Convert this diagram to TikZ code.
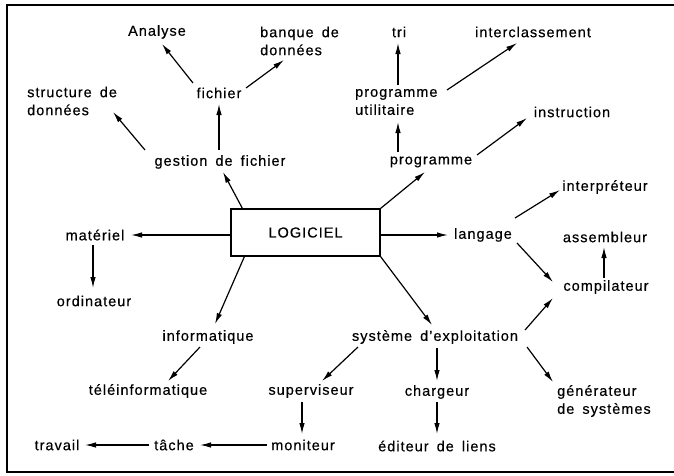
\documentclass[tikz,border=0pt]{standalone}
\usepackage{fontspec}
\setmainfont{Liberation Sans}[LetterSpace=7,WordSpace=1.6,FakeBold=0.4]
\usetikzlibrary{arrows.meta}
\begin{document}
\begin{tikzpicture}[x=1pt,y=-1pt,
  lbl/.style={inner sep=0pt,font=\fontsize{14.5}{18}\selectfont},
  lbll/.style={lbl,align=left,anchor=west},
  arr/.style={line width=1.2pt,-{Latex[length=11pt,width=5.5pt]}},
  frame/.style={line width=1.8pt}]
\useasboundingbox (0,0) rectangle (674,475);
\coordinate (ftr) at (674,5);
\coordinate (ftl) at (7,5);
\coordinate (fbl) at (7,472);
\coordinate (fbr) at (674,472);
\draw[frame] (ftr) -- (ftl) -- (fbl) -- (fbr);

\node[draw,line width=1.2pt,minimum width=149pt,minimum height=47pt,inner sep=0pt,
  font=\fontsize{14.5}{18}\selectfont] (logiciel) at (305.5,232.5) {LOGICIEL};

\node[lbl] (ana) at (157,32) {Analyse};
\node[lbll] (banque) at (260,41) {banque de\\données};
\node[lbll] (struct) at (27,101) {structure de\\données};
\node[lbl] (fichier) at (219,93) {fichier};
\node[lbl] (gestion) at (220,162) {gestion de fichier};
\node[lbl] (materiel) at (95,235) {matériel};
\node[lbl] (ordi) at (94,301) {ordinateur};
\node[lbl] (info) at (208,337) {informatique};
\node[lbl] (tele) at (148,391) {téléinformatique};
\node[lbl] (superv) at (311,391) {superviseur};
\node[lbl] (monit) at (303,445) {moniteur};
\node[lbl] (tache) at (174,445) {tâche};
\node[lbl] (travail) at (57,445) {travail};
\node[lbl] (systeme) at (435,337) {système d'exploitation};
\node[lbl] (chargeur) at (437,392) {chargeur};
\node[lbl] (editeur) at (437,446) {éditeur de liens};
\node[lbll] (gener) at (557,401) {générateur\\de systèmes};
\node[lbl] (compil) at (606,287) {compilateur};
\node[lbl] (assemb) at (605,237) {assembleur};
\node[lbl] (langage) at (483,235) {langage};
\node[lbl] (interp) at (605,187) {interpréteur};
\node[lbl] (programme) at (431,162) {programme};
\node[lbl] (instruction) at (572,112) {instruction};
\node[lbll] (progutil) at (355,102) {programme\\utilitaire};
\node[lbl] (tri) at (399,32) {tri};
\node[lbl] (interclass) at (533,32) {interclassement};

\draw[arr] ([shift={(-75,-12)}]gestion.center) -- ([shift={(86,11)}]struct.west);
\draw[arr] ([shift={(-1,-12)}]gestion.center) -- ([shift={(0,11)}]fichier.center);
\draw[arr] ([shift={(-26,-10)}]fichier.center) -- ([shift={(5,12)}]ana.center);
\draw[arr] ([shift={(27,-5)}]fichier.center) -- ([shift={(24,19)}]banque.west);
\draw[arr] ([shift={(12,0)}]logiciel.north west) -- ([shift={(3,10)}]gestion.center);
\draw[arr] ([shift={(0,2.5)}]logiciel.west) -- ([shift={(36,0)}]materiel.center);
\draw[arr] ([shift={(-2,10)}]materiel.center) -- ([shift={(-1,-13)}]ordi.center);
\draw[arr] ([shift={(14,0)}]logiciel.south west) -- ([shift={(7,-13)}]info.center);
\draw[arr] ([shift={(-8,10)}]info.center) -- ([shift={(20,-10)}]tele.center);
\draw[arr] ([shift={(-77,10)}]systeme.center) -- ([shift={(11,-10)}]superv.center);
\draw[arr] ([shift={(-9,11)}]superv.center) -- ([shift={(-1,-11)}]monit.center);
\draw[arr] ([shift={(-36,0)}]monit.center) -- ([shift={(26,0)}]tache.center);
\draw[arr] ([shift={(-25,0)}]tache.center) -- ([shift={(28,0)}]travail.center);
\draw[arr] (logiciel.north east) -- ([shift={(-6,10)}]programme.center);
\draw[arr] ([shift={(46,-7)}]programme.center) -- ([shift={(-45,6)}]instruction.center);
\draw[arr] ([shift={(-33,-10)}]programme.center) -- ([shift={(43,20)}]progutil.west);
\draw[arr] ([shift={(43,-17)}]progutil.west) -- ([shift={(-1,11)}]tri.center);
\draw[arr] ([shift={(92,-12)}]progutil.west) -- ([shift={(-16,11)}]interclass.center);
\draw[arr] ([shift={(0,2.5)}]logiciel.east) -- ([shift={(-35,0)}]langage.center);
\draw[arr] ([shift={(32,-17)}]langage.center) -- ([shift={(-45,3)}]interp.center);
\draw[arr] ([shift={(34,8)}]langage.center) -- ([shift={(-53,-5)}]compil.center);
\draw[arr] ([shift={(-2,-9)}]compil.center) -- ([shift={(-1,10)}]assemb.center);
\draw[arr] (logiciel.south east) -- ([shift={(-3,-12)}]systeme.center);
\draw[arr] ([shift={(2,11)}]systeme.center) -- ([shift={(0,-11)}]chargeur.center);
\draw[arr] ([shift={(0,10)}]chargeur.center) -- ([shift={(0,-12)}]editeur.center);
\draw[arr] ([shift={(90,-7)}]systeme.center) -- ([shift={(-53,11)}]compil.center);
\draw[arr] ([shift={(92,10)}]systeme.center) -- ([shift={(-4,-19)}]gener.west);
\end{tikzpicture}
\end{document}
